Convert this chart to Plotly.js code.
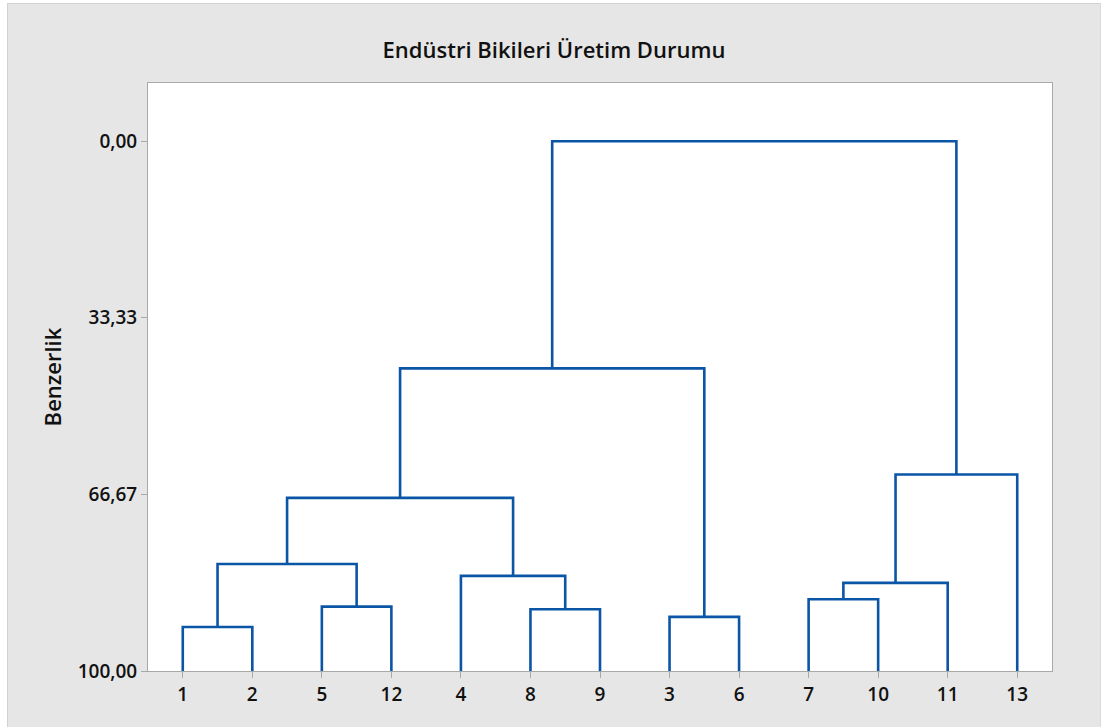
<!DOCTYPE html>
<html>
<head>
<meta charset="utf-8">
<script src="https://cdn.plot.ly/plotly-3.0.1.min.js"></script>
<style>
  html, body { margin: 0; padding: 0; background: #ffffff; width: 1103px; height: 727px; overflow: hidden; }
  #chart { position: absolute; left: 7px; top: 3px; width: 1092px; height: 723px;
           border-left: 1px solid #d2d2d2; border-top: 1px solid #d2d2d2; border-right: 1px solid #dadada; }
</style>
</head>
<body>
<div id="chart"></div>
<script>
// Leaf labels in dendrogram order
const leafLabels = ['1', '2', '5', '12', '4', '8', '9', '3', '6', '7', '10', '11', '13'];
// Linkage: cluster ids 0..12 are leaves (by position), new clusters numbered from 13
const mergeLeft   = [0, 2, 5, 7, 9, 13, 4, 17, 18, 20, 21, 23];
const mergeRight  = [1, 3, 6, 8, 10, 14, 15, 11, 19, 12, 16, 22];
const mergeHeight = [91.69, 87.84, 88.34, 89.79, 86.45, 79.79, 82.05, 83.37, 67.32, 62.90, 42.88, 0.00];
const yTickVals = [0, 33.33, 66.67, 100];
const yTickText = ['0,00', '33,33', '66,67', '100,00'];

const nLeaves = leafLabels.length;
const nodeX = [], nodeY = [];
for (let i = 0; i < nLeaves; i++) { nodeX.push(i); nodeY.push(100); }

const lineColor = '#0a55a5';
const traces = [];
for (let k = 0; k < mergeHeight.length; k++) {
  const a = mergeLeft[k], b = mergeRight[k], h = mergeHeight[k];
  traces.push({
    type: 'scatter', mode: 'lines',
    x: [nodeX[a], nodeX[a], nodeX[b], nodeX[b]],
    y: [nodeY[a], h, h, nodeY[b]],
    line: { color: lineColor, width: 2.6 },
    hoverinfo: 'skip', showlegend: false
  });
  nodeX.push((nodeX[a] + nodeX[b]) / 2);
  nodeY.push(h);
}

const fontFam = '"Open Sans", "Noto Sans", sans-serif';
const layout = {
  width: 1092, height: 723,
  paper_bgcolor: '#e6e6e6', plot_bgcolor: '#ffffff',
  margin: { l: 140, r: 48, t: 79, b: 56 },
  title: {
    text: 'Endüstri Bikileri Üretim Durumu',
    font: { family: fontFam, size: 22, color: '#111111', weight: 600 },
    x: 0.5, xref: 'container', y: 0.936, yref: 'container', yanchor: 'middle'
  },
  xaxis: {
    range: [-0.5, 12.5], tickmode: 'array',
    tickvals: leafLabels.map((_, i) => i), ticktext: leafLabels,
    showgrid: false, zeroline: false, showline: true, linecolor: '#a8a8a8', linewidth: 1, mirror: true,
    ticks: 'outside', ticklen: 6, tickcolor: '#a8a8a8', tickwidth: 1,
    tickfont: { family: fontFam, size: 19, color: '#111111', weight: 600 }, fixedrange: true
  },
  yaxis: {
    range: [100, -11.0], tickmode: 'array', tickvals: yTickVals, ticktext: yTickText,
    showgrid: false, zeroline: false, showline: true, linecolor: '#a8a8a8', linewidth: 1, mirror: true,
    ticks: 'outside', ticklen: 6, tickcolor: '#a8a8a8', tickwidth: 1,
    tickfont: { family: fontFam, size: 19, color: '#111111', weight: 600 },
    title: { text: 'Benzerlik', font: { family: fontFam, size: 22, color: '#111111', weight: 600 }, standoff: 10 },
    fixedrange: true
  },
  hovermode: false
};

Plotly.newPlot('chart', traces, layout, { displayModeBar: false, staticPlot: true });
</script>
</body>
</html>
